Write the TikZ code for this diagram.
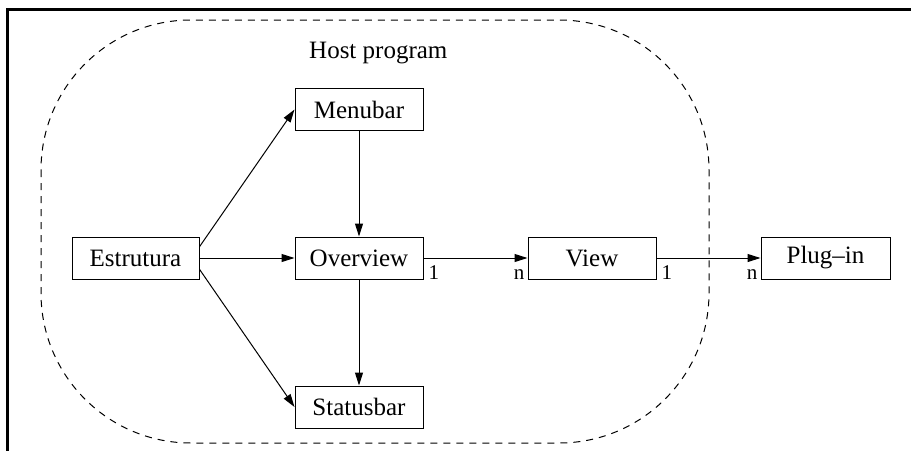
\documentclass[tikz,border=0pt]{standalone}
\usepackage{fontspec}
\setmainfont{Liberation Serif}
\usetikzlibrary{arrows.meta}
\begin{document}
\begin{tikzpicture}[x=1pt,y=-1pt,
  box/.style={draw=black,line width=1pt,minimum width=128pt,minimum height=42pt,inner sep=0pt,font=\fontsize{25}{30}\selectfont},
  conn/.style={line width=1pt,-{Triangle[length=13pt,width=8pt]}},
  lbl/.style={font=\fontsize{21}{25}\selectfont,inner sep=0pt},
  frameline/.style={line width=3pt}]
\useasboundingbox (0,0) rectangle (911,451);
\coordinate (ftl) at (7.5,9.5);
\coordinate (ftr) at (911,9.5);
\coordinate (fbl) at (7.5,451);
\draw[frameline] (ftr) -- (ftl) -- (fbl);
\draw[dash pattern=on 7pt off 6pt,line width=1pt,rounded corners=150pt] (41,20) rectangle (709,443);
\node[anchor=base west,inner sep=0pt,font=\fontsize{25}{30}\selectfont] (host) at (309,58) {Host program};
\node[box,minimum width=127pt] (estr) at (135.5,258) {Estrutura};
\node[box] (over) at (359,258) {Overview};
\node[box] (menu) at (359,109.5) {Menubar};
\node[box] (stat) at (359,407) {Statusbar};
\node[box] (view) at (592,258) {View};
\node[box,minimum width=129pt] (plug) at (825.5,258) {Plug--in};
\draw[conn] (estr.10) -- (menu.west);
\draw[conn] (estr.east) -- (over.west);
\draw[conn] (estr.-10) -- (stat.west);
\draw[conn] (menu.south) -- (over.north);
\draw[conn] (over.south) -- (stat.north);
\draw[conn] (over.east) -- (view.west);
\draw[conn] (view.east) -- (plug.west);
\node[lbl,anchor=base west] (l1) at ([xshift=5pt]over.south east) {1};
\node[lbl,anchor=base east] (l2) at ([xshift=-3pt]view.south west) {n};
\node[lbl,anchor=base west] (l3) at ([xshift=5pt]view.south east) {1};
\node[lbl,anchor=base east] (l4) at ([xshift=-3pt]plug.south west) {n};
\end{tikzpicture}
\end{document}
